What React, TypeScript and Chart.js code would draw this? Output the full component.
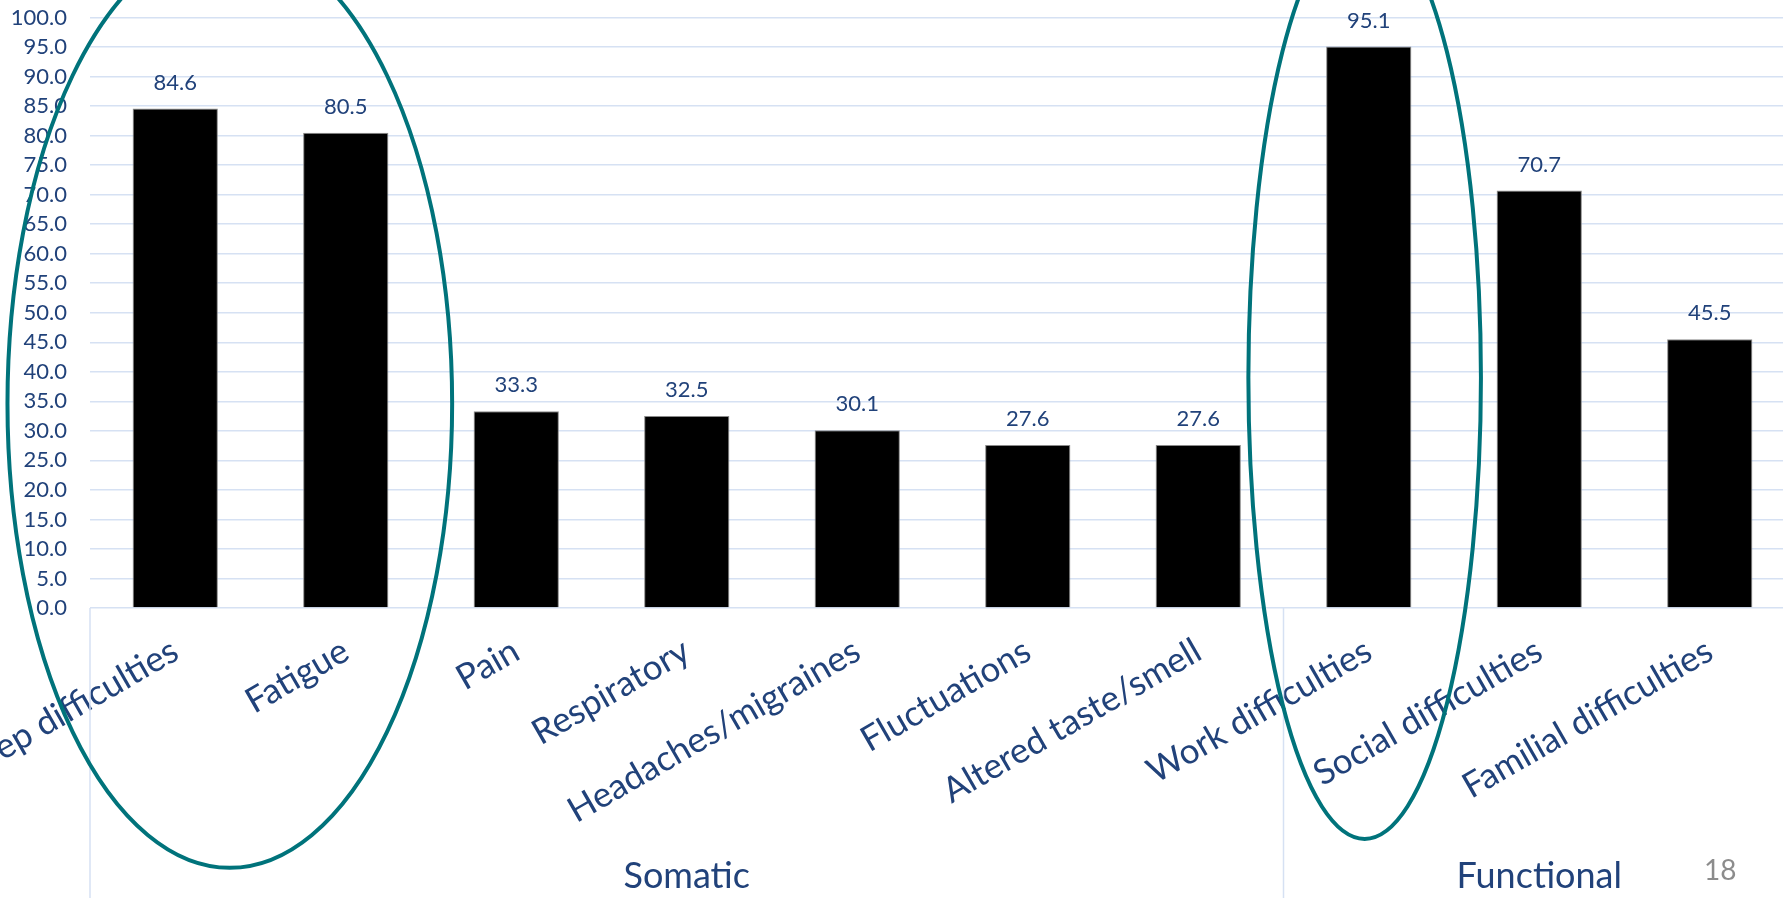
import React, { useEffect, useRef } from "react";
import { Chart, registerables } from "chart.js";

Chart.register(...registerables);

// ---------- data ----------
const categories: string[] = [
  "Sleep difficulties",
  "Fatigue",
  "Pain",
  "Respiratory",
  "Headaches/migraines",
  "Fluctuations",
  "Altered taste/smell",
  "Work difficulties",
  "Social difficulties",
  "Familial difficulties",
];
const values: number[] = [84.6, 80.5, 33.3, 32.5, 30.1, 27.6, 27.6, 95.1, 70.7, 45.5];

const groupLabels: string[] = ["Somatic", "Functional"];
const groupStarts: number[] = [0, 7];
const groupEnds: number[] = [6, 9];

const yMin = 0;
const yMax = 100;
const yStep = 5;

// highlight ellipses (category-index centre, half-width in categories, value centre, half-height in values)
const ellipseCenterIdx: number[] = [0.32, 6.976];
const ellipseHalfCats: number[] = [1.304, 0.682];
const ellipseCenterVal: number[] = [34.6, 39.0];
const ellipseHalfVals: number[] = [78.6, 78.1];

const pageNumber = "18";

// ---------- styles ----------
const NAVY = "#21427a";
const GRID = "#d6e1f3";
const TEAL = "#00737b";
const FONT = "Lato";

const PAGE_W = 1783;
const PAGE_H = 898;
const OFF = 300; // canvas extends left of the visible page (cropped slide)
const CANVAS_W = OFF + 1795 + 40;
const PLOT_TOP = 17.5;

const extrasPlugin = {
  id: "extras",
  afterDatasetsDraw(chart: any) {
    const { ctx } = chart;
    const meta = chart.getDatasetMeta(0);
    ctx.save();
    ctx.font = `22px ${FONT}`;
    ctx.fillStyle = NAVY;
    ctx.textAlign = "center";
    ctx.textBaseline = "middle";
    meta.data.forEach((bar: any, i: number) => {
      ctx.fillText(values[i].toFixed(1), bar.x, bar.y - 26);
    });
    ctx.restore();
  },
  afterDraw(chart: any) {
    const { ctx, chartArea } = chart;
    const x = chart.scales.x;
    const y = chart.scales.y;
    const catW = x.getPixelForValue(1) - x.getPixelForValue(0);

    // group separators & labels
    ctx.save();
    ctx.strokeStyle = GRID;
    ctx.lineWidth = 1.5;
    const bounds: number[] = [];
    groupStarts.forEach((s, g) => {
      bounds.push(x.getPixelForValue(s) - catW / 2);
      if (g === groupStarts.length - 1) bounds.push(x.getPixelForValue(groupEnds[g]) + catW / 2);
    });
    bounds.forEach((bx) => {
      ctx.beginPath();
      ctx.moveTo(bx, chartArea.bottom);
      ctx.lineTo(bx, chart.height);
      ctx.stroke();
    });
    ctx.font = `36px ${FONT}`;
    ctx.fillStyle = NAVY;
    ctx.textAlign = "center";
    ctx.textBaseline = "middle";
    groupLabels.forEach((lab, g) => {
      const cx = (x.getPixelForValue(groupStarts[g]) + x.getPixelForValue(groupEnds[g])) / 2;
      ctx.fillText(lab, cx, chart.height - 22);
    });
    ctx.restore();

    // ellipses
    ctx.save();
    ctx.strokeStyle = TEAL;
    ctx.lineWidth = 4;
    ellipseCenterIdx.forEach((ci, k) => {
      const cx = x.getPixelForValue(0) + ci * catW;
      const rx = ellipseHalfCats[k] * catW;
      const cy = y.getPixelForValue(ellipseCenterVal[k]);
      const ry = Math.abs(y.getPixelForValue(ellipseCenterVal[k] + ellipseHalfVals[k]) - cy);
      ctx.beginPath();
      ctx.ellipse(cx, cy, rx, ry, 0, 0, Math.PI * 2);
      ctx.stroke();
    });
    ctx.restore();
  },
};

function ChartView() {
  const ref = useRef<HTMLCanvasElement | null>(null);
  useEffect(() => {
    let chart: any = null;
    let cancelled = false;
    const options: any = {
      responsive: false,
      animation: false,
      devicePixelRatio: 1,
      layout: { padding: { left: OFF, right: 40, top: PLOT_TOP, bottom: 0 } },
      plugins: { legend: { display: false }, tooltip: { enabled: false }, title: { display: false } },
      scales: {
        x: {
          offset: true,
          grid: { display: false, drawTicks: false },
          border: { display: false },
          ticks: {
            autoSkip: false,
            minRotation: 30,
            maxRotation: 30,
            padding: 22,
            color: NAVY,
            font: { family: FONT, size: 35 },
          },
          afterFit: (s: any) => {
            s.height = 290;
          },
        },
        y: {
          min: yMin,
          max: yMax,
          grid: {
            color: GRID,
            lineWidth: 1.5,
            drawTicks: true,
            tickLength: 23,
            tickColor: "rgba(0,0,0,0)",
          },
          border: { display: false },
          ticks: {
            autoSkip: false,
            stepSize: yStep,
            padding: 0,
            color: NAVY,
            font: { family: FONT, size: 22 },
            callback: (v: any) => Number(v).toFixed(1),
          },
          afterFit: (s: any) => {
            s.width = 90;
          },
        },
      },
    };
    const make = () => {
      if (cancelled || !ref.current) return;
      chart = new Chart(ref.current, {
        type: "bar",
        data: {
          labels: categories,
          datasets: [
            {
              data: values,
              backgroundColor: "#000000",
              borderColor: "#8a8a8a",
              borderWidth: 1,
              barPercentage: 0.5,
              categoryPercentage: 1,
            },
          ],
        },
        options,
        plugins: [extrasPlugin],
      });
    };
    const f = (document as any).fonts;
    if (f && f.load) {
      Promise.all([f.load(`22px ${FONT}`), f.load(`35px ${FONT}`)]).then(make, make);
    } else make();
    return () => {
      cancelled = true;
      if (chart) chart.destroy();
    };
  }, []);
  return (
    <canvas
      ref={ref}
      width={CANVAS_W}
      height={PAGE_H}
      style={{ position: "absolute", left: -OFF, top: 0, width: CANVAS_W, height: PAGE_H }}
    />
  );
}

export default function App() {
  return (
    <div
      style={{
        position: "fixed",
        left: 0,
        top: 0,
        width: PAGE_W,
        height: PAGE_H,
        overflow: "hidden",
        background: "#ffffff",
      }}
    >
      <ChartView />
      <div
        style={{
          position: "absolute",
          left: 1704,
          top: 851,
          font: `28px ${FONT}`,
          color: "#8c8c8c",
          lineHeight: "36px",
        }}
      >
        {pageNumber}
      </div>
    </div>
  );
}
